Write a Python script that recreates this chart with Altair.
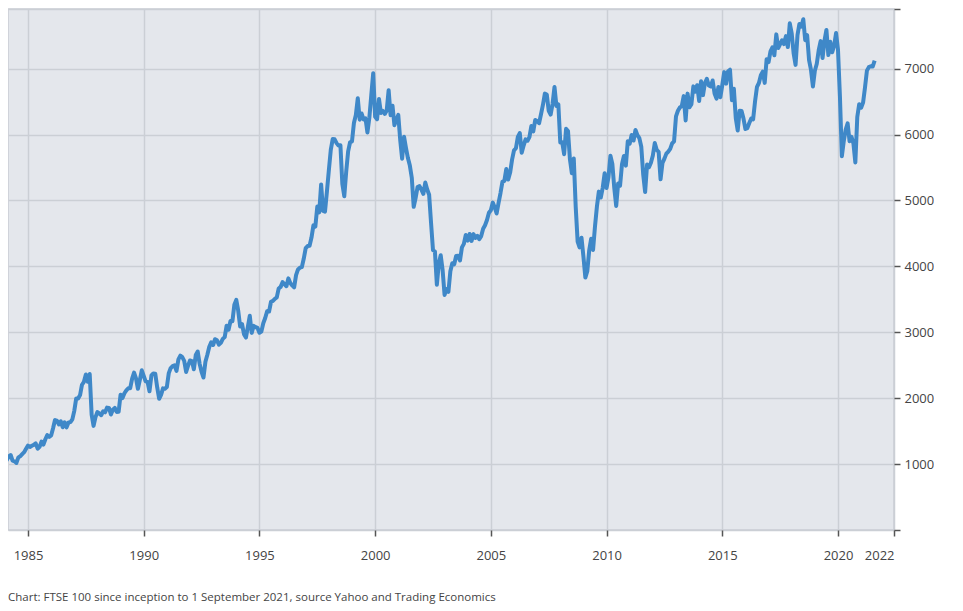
import altair as alt
import pandas as pd

# FTSE 100 monthly closes, Jan..Dec per year
v1984 = [1068, 1062, 1114, 1138, 1052, 1042, 1018, 1102, 1119, 1152, 1181, 1232]
v1985 = [1280, 1260, 1278, 1291, 1314, 1234, 1261, 1340, 1295, 1377, 1439, 1413]
v1986 = [1435, 1543, 1668, 1660, 1602, 1649, 1559, 1634, 1557, 1632, 1637, 1679]
v1987 = [1808, 1997, 1997, 2048, 2204, 2248, 2360, 2250, 2366, 1750, 1580, 1712]
v1988 = [1790, 1769, 1742, 1802, 1785, 1857, 1853, 1753, 1826, 1852, 1792, 1793]
v1989 = [2052, 2002, 2075, 2119, 2151, 2152, 2297, 2387, 2299, 2142, 2277, 2423]
v1990 = [2338, 2255, 2247, 2104, 2345, 2375, 2372, 2163, 1991, 2050, 2149, 2144]
v1991 = [2170, 2380, 2457, 2487, 2500, 2415, 2589, 2645, 2622, 2566, 2398, 2493]
v1992 = [2572, 2562, 2440, 2655, 2708, 2521, 2400, 2313, 2553, 2658, 2779, 2847]
v1993 = [2807, 2895, 2878, 2813, 2840, 2900, 2927, 3100, 3038, 3171, 3167, 3418]
v1994 = [3491, 3328, 3086, 3125, 2970, 2919, 3082, 3251, 2991, 3098, 3079, 3066]
v1995 = [2992, 3010, 3138, 3217, 3320, 3315, 3463, 3477, 3508, 3529, 3665, 3689]
v1996 = [3760, 3728, 3699, 3818, 3748, 3711, 3681, 3867, 3953, 3980, 3989, 4119]
v1997 = [4276, 4308, 4313, 4437, 4622, 4604, 4907, 4818, 5244, 4842, 4831, 5136]
v1998 = [5458, 5767, 5932, 5928, 5870, 5833, 5837, 5249, 5064, 5438, 5744, 5883]
v1999 = [5896, 6175, 6296, 6552, 6226, 6319, 6231, 6246, 6030, 6255, 6597, 6930]
v2000 = [6269, 6233, 6540, 6327, 6359, 6313, 6365, 6673, 6294, 6438, 6142, 6223]
v2001 = [6298, 5918, 5634, 5967, 5796, 5643, 5529, 5345, 4903, 5040, 5204, 5217]
v2002 = [5165, 5101, 5272, 5166, 5086, 4656, 4246, 4228, 3722, 4039, 4169, 3940]
v2003 = [3567, 3656, 3613, 3926, 4048, 4031, 4157, 4161, 4091, 4288, 4342, 4477]
v2004 = [4390, 4492, 4386, 4489, 4431, 4464, 4413, 4459, 4571, 4624, 4703, 4814]
v2005 = [4852, 4968, 4894, 4802, 4964, 5113, 5282, 5297, 5478, 5317, 5423, 5619]
v2006 = [5760, 5792, 5965, 6023, 5724, 5833, 5928, 5906, 5961, 6129, 6049, 6221]
v2007 = [6203, 6172, 6308, 6449, 6621, 6608, 6360, 6303, 6467, 6722, 6433, 6457]
v2008 = [5880, 5884, 5702, 6087, 6054, 5626, 5412, 5637, 4902, 4377, 4288, 4434]
v2009 = [4150, 3830, 3926, 4244, 4418, 4249, 4608, 4909, 5134, 5045, 5191, 5413]
v2010 = [5189, 5355, 5680, 5553, 5188, 4917, 5258, 5225, 5549, 5675, 5528, 5900]
v2011 = [5863, 5994, 5909, 6070, 5990, 5946, 5815, 5395, 5128, 5544, 5505, 5572]
v2012 = [5682, 5872, 5768, 5738, 5321, 5571, 5635, 5711, 5742, 5783, 5867, 5898]
v2013 = [6277, 6361, 6412, 6430, 6583, 6215, 6621, 6413, 6462, 6731, 6651, 6749]
v2014 = [6510, 6810, 6598, 6780, 6845, 6744, 6730, 6820, 6623, 6546, 6723, 6566]
v2015 = [6749, 6947, 6773, 6961, 6984, 6521, 6696, 6248, 6062, 6361, 6356, 6242]
v2016 = [6084, 6097, 6175, 6242, 6231, 6504, 6724, 6782, 6899, 6954, 6784, 7143]
v2017 = [7099, 7263, 7323, 7204, 7520, 7313, 7372, 7431, 7373, 7493, 7327, 7688]
v2018 = [7534, 7232, 7057, 7509, 7678, 7637, 7749, 7432, 7510, 7128, 6980, 6728]
v2019 = [6969, 7075, 7279, 7418, 7162, 7426, 7587, 7207, 7408, 7248, 7347, 7542]
v2020 = [7286, 6581, 5672, 5901, 6077, 6170, 5898, 5964, 5866, 5577, 6266, 6461]
v2021 = [6407, 6484, 6714, 6970, 7023, 7037, 7032, 7120]

series = {
    1984: v1984, 1985: v1985, 1986: v1986, 1987: v1987, 1988: v1988,
    1989: v1989, 1990: v1990, 1991: v1991, 1992: v1992, 1993: v1993,
    1994: v1994, 1995: v1995, 1996: v1996, 1997: v1997, 1998: v1998,
    1999: v1999, 2000: v2000, 2001: v2001, 2002: v2002, 2003: v2003,
    2004: v2004, 2005: v2005, 2006: v2006, 2007: v2007, 2008: v2008,
    2009: v2009, 2010: v2010, 2011: v2011, 2012: v2012, 2013: v2013,
    2014: v2014, 2015: v2015, 2016: v2016, 2017: v2017, 2018: v2018,
    2019: v2019, 2020: v2020, 2021: v2021,
}

x_ticks = [1985, 1990, 1995, 2000, 2005, 2010, 2015, 2020, 2022.42]
y_ticks = [0, 1000, 2000, 3000, 4000, 5000, 6000, 7000, 7905]
footer = "Chart: FTSE 100 since inception to 1 September 2021, source Yahoo and Trading Economics"

rows = []
for yr, vals in series.items():
    for i, v in enumerate(vals):
        rows.append({"t": yr + i / 12.0, "v": v})
df = pd.DataFrame(rows)

chart = (
    alt.Chart(df)
    .mark_line(color="#3f88c8", strokeWidth=4, clip=True, strokeJoin="round")
    .encode(
        x=alt.X(
            "t:Q",
            scale=alt.Scale(domain=[1984.136, 2022.42], nice=False, zero=False),
            axis=alt.Axis(
                values=x_ticks,
                labelExpr="datum.value > 2021 ? '2022' : format(datum.value, 'd')",
                title=None,
                tickSize=6,
                labelPadding=13,
            ),
        ),
        y=alt.Y(
            "v:Q",
            scale=alt.Scale(domain=[0, 7905], nice=False),
            axis=alt.Axis(
                orient="right",
                values=y_ticks,
                labelExpr="(datum.value == 0 || datum.value > 7500) ? '' : format(datum.value, 'd')",
                title=None,
                tickSize=6,
                labelPadding=4,
            ),
        ),
    )
    .properties(
        width=886,
        height=521,
        padding=0,
        title=alt.TitleParams(
            footer,
            orient="bottom",
            anchor="start",
            font="Open Sans",
            fontSize=11.5,
            fontWeight="normal",
            color="#444444",
            offset=30,
        ),
    )
    .configure_view(fill="#e4e7ec", stroke="#c9cdd3", strokeWidth=1.5)
    .configure_axis(
        domain=False,
        grid=True,
        gridColor="#cbcfd5",
        gridWidth=1.5,
        tickColor="#555555",
        tickWidth=1.5,
        labelFont="Open Sans",
        labelFontSize=13,
        labelColor="#444444",
    )
)

chart.save("out.html", embed_options={"renderer": "svg", "actions": False})
